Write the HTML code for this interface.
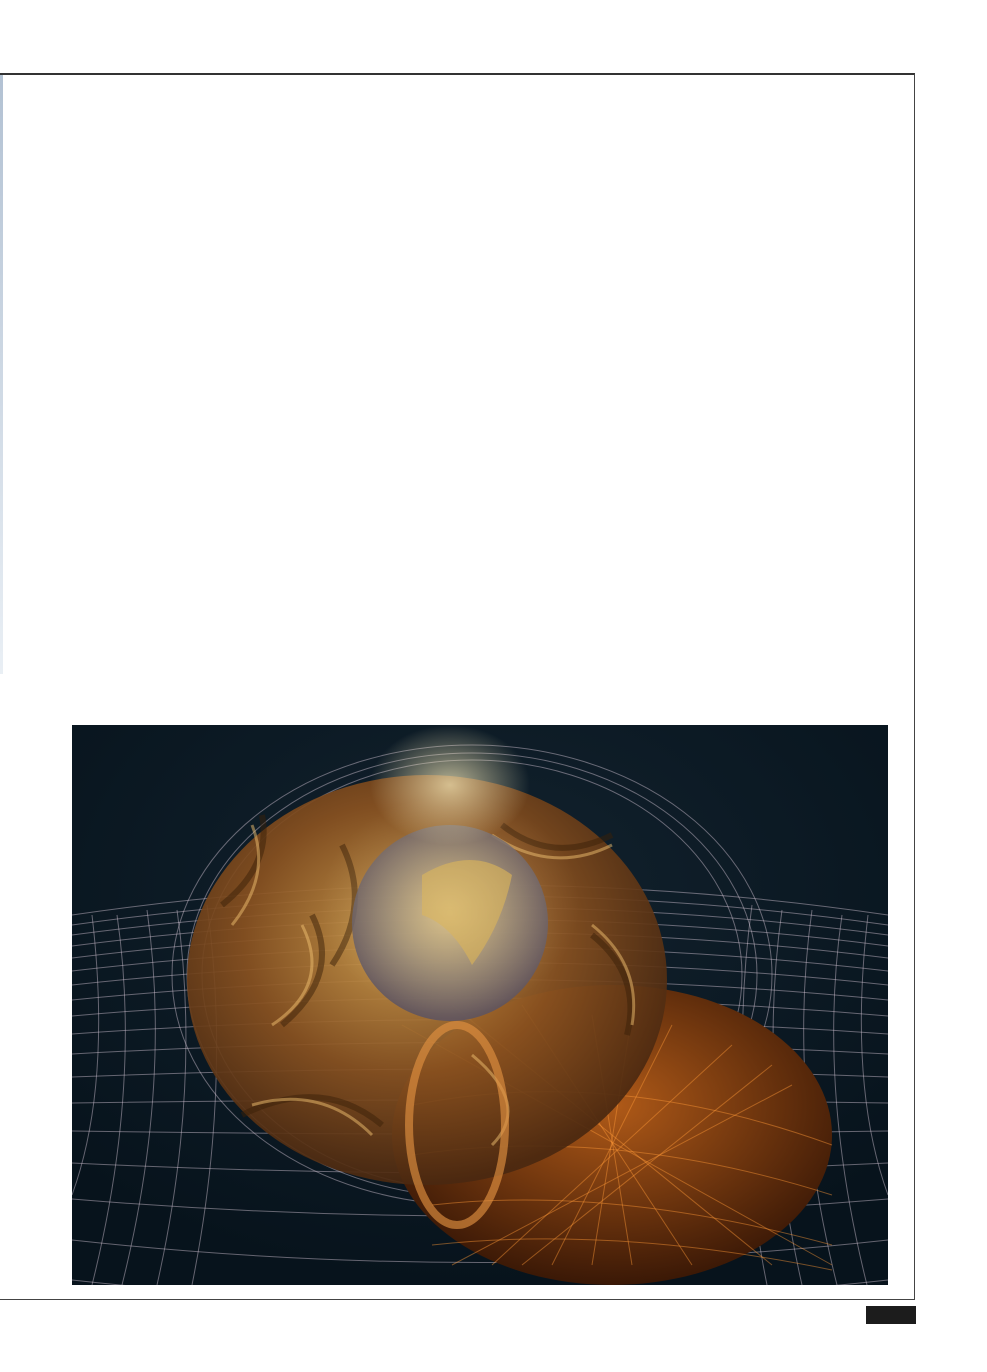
<!DOCTYPE html>
<html><head><meta charset="utf-8"><style>
html,body{margin:0;padding:0;background:#fff;}
body{width:987px;height:1372px;position:relative;overflow:hidden;font-family:"Liberation Sans",sans-serif;}
.abs{position:absolute;}
</style></head><body>
<div class="abs" style="left:0;top:74px;width:3px;height:600px;background:linear-gradient(#9fb2c8,#e4ebf2);opacity:0.8;"></div>
<div class="abs" style="left:0;top:73px;width:914px;height:1224px;border-top:2px solid #333;border-right:1px solid #444;border-bottom:1px solid #444;"></div>
<svg class="abs" style="left:72px;top:725px" width="816" height="560" viewBox="0 0 816 560">
<defs>
<radialGradient id="bg" cx="50%" cy="30%" r="70%"><stop offset="0" stop-color="#12222e"/><stop offset="1" stop-color="#07131c"/></radialGradient>
<radialGradient id="brain" cx="45%" cy="40%" r="60%"><stop offset="0" stop-color="#d8a450"/><stop offset="0.55" stop-color="#8a5220"/><stop offset="1" stop-color="#4a2810"/></radialGradient>
<radialGradient id="head" cx="50%" cy="40%" r="60%"><stop offset="0" stop-color="#b05a18"/><stop offset="1" stop-color="#3a1806"/></radialGradient>
<radialGradient id="globe" cx="50%" cy="45%" r="55%"><stop offset="0" stop-color="#d8c088"/><stop offset="0.6" stop-color="#8a7e74"/><stop offset="1" stop-color="#5a5262"/></radialGradient>
<radialGradient id="glow" cx="50%" cy="50%" r="50%"><stop offset="0" stop-color="#fff2c0" stop-opacity="0.7"/><stop offset="1" stop-color="#fff2c0" stop-opacity="0"/></radialGradient>
</defs>
<rect width="816" height="560" fill="url(#bg)"/>
<g stroke="#d8c8d8" stroke-opacity="0.45" fill="none" stroke-width="1">
<path d="M0 190 Q408 130 816 190"/><path d="M0 200 Q408 142 816 200"/><path d="M0 210 Q408 155 816 210"/><path d="M0 221 Q408 168 816 221"/>
<path d="M0 233 Q408 182 816 233"/><path d="M0 246 Q408 198 816 246"/><path d="M0 260 Q408 215 816 260"/><path d="M0 275 Q408 234 816 275"/>
<path d="M0 291 Q408 255 816 291"/><path d="M0 309 Q408 280 816 309"/><path d="M0 329 Q408 306 816 329"/><path d="M0 352 Q408 336 816 352"/>
<path d="M0 378 Q408 372 816 378"/><path d="M0 406 Q408 412 816 406"/><path d="M0 438 Q408 458 816 438"/><path d="M0 474 Q408 508 816 474"/>
<path d="M0 515 Q408 560 816 515"/><path d="M0 555 Q408 600 816 555"/>
<path d="M20 190 Q40 360 0 470"/><path d="M45 190 Q70 360 20 560"/><path d="M75 185 Q100 360 50 560"/><path d="M105 185 Q130 360 85 560"/><path d="M135 180 Q160 360 120 560"/>
<path d="M796 190 Q776 360 816 470"/><path d="M770 190 Q745 360 795 560"/><path d="M740 185 Q715 360 765 560"/><path d="M710 185 Q685 360 730 560"/><path d="M680 180 Q655 360 695 560"/>
<ellipse cx="400" cy="250" rx="300" ry="230"/><ellipse cx="400" cy="250" rx="285" ry="222"/><ellipse cx="400" cy="250" rx="270" ry="215"/>
</g>
<ellipse cx="540" cy="410" rx="220" ry="150" fill="url(#head)"/>
<g stroke="#ff9a38" stroke-opacity="0.45" stroke-width="1" fill="none">
<path d="M330 300 L760 540"/><path d="M380 280 L700 540"/><path d="M450 280 L620 540"/><path d="M520 290 L560 540"/>
<path d="M600 300 L480 540"/><path d="M660 320 L420 540"/><path d="M720 360 L380 540"/><path d="M560 290 L520 540"/><path d="M700 340 L450 540"/>
<path d="M340 380 Q540 340 760 420"/><path d="M340 430 Q540 400 760 470"/><path d="M360 480 Q540 460 760 520"/><path d="M360 520 Q540 500 760 545"/>
</g>
<ellipse cx="355" cy="255" rx="240" ry="205" fill="url(#brain)" opacity="0.92"/>
<g stroke="#3a2008" stroke-opacity="0.5" stroke-width="6" fill="none">
<path d="M150 180 Q200 140 190 90"/><path d="M210 300 Q270 250 240 190"/><path d="M430 100 Q480 140 540 110"/>
<path d="M520 210 Q570 250 555 310"/><path d="M170 390 Q250 350 310 400"/><path d="M270 120 Q300 180 260 240"/>
</g>
<g stroke="#f0c070" stroke-opacity="0.5" stroke-width="3" fill="none">
<path d="M160 200 Q200 150 180 100"/><path d="M200 300 Q260 260 230 200"/><path d="M420 110 Q480 150 540 120"/>
<path d="M520 200 Q570 240 560 300"/><path d="M180 380 Q250 360 300 410"/><path d="M400 330 Q460 380 420 420"/>
</g>
<circle cx="378" cy="198" r="98" fill="url(#globe)" opacity="0.85"/>
<path d="M350 150 Q400 120 440 150 Q430 200 400 240 Q380 200 350 190 Z" fill="#d0a850" opacity="0.7"/>
<ellipse cx="385" cy="400" rx="48" ry="100" fill="none" stroke="#e09040" stroke-width="8" opacity="0.65"/>
<ellipse cx="378" cy="60" rx="80" ry="60" fill="url(#glow)"/>
<ellipse cx="378" cy="180" rx="130" ry="110" fill="url(#glow)" opacity="0.3"/>
</svg>
<div class="abs" style="left:866px;top:1306px;width:50px;height:18px;background:#1c1c1c;"></div>
</body></html>
